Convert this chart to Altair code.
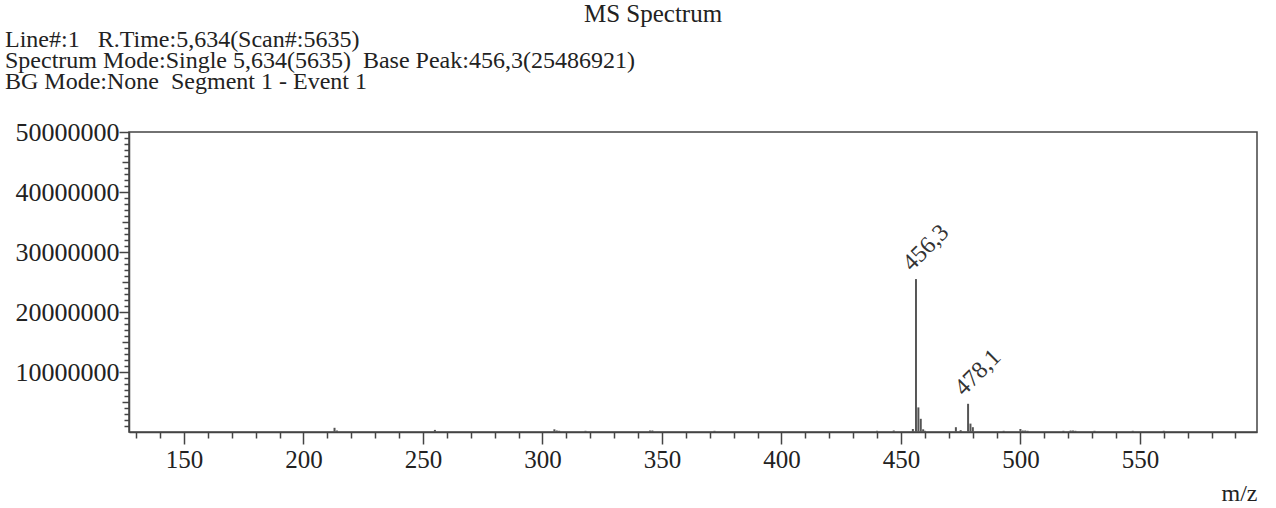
import altair as alt
import pandas as pd

# ---- data ----
mz = [213.0, 214.0, 255.0, 305.0, 306.0, 307.0, 318.0, 345.0, 346.0, 372.0,
      440.0, 447.0, 455.0, 456.3, 457.3, 458.3, 459.3, 460.0, 473.0, 475.0,
      478.1, 479.1, 480.1, 493.0, 500.0, 501.0, 502.0, 503.0, 518.0, 521.0,
      522.0, 523.0, 531.0, 547.0, 560.0]
intensity = [700000, 250000, 350000, 450000, 250000, 200000, 200000, 250000, 250000, 200000,
             200000, 250000, 500000, 25486921, 4100000, 2200000, 450000, 200000, 800000, 300000,
             4700000, 1400000, 800000, 200000, 500000, 250000, 250000, 200000, 200000, 250000,
             250000, 200000, 200000, 200000, 200000]

label_mz = [456.3, 478.1]
label_int = [25486921, 4700000]
label_text = ["456,3", "478,1"]

title_text = ["MS Spectrum"]
header_lines = [
    "Line#:1\u00a0\u00a0\u00a0R.Time:5,634(Scan#:5635)",
    "Spectrum Mode:Single 5,634(5635)\u00a0\u00a0Base Peak:456,3(25486921)",
    "BG Mode:None\u00a0\u00a0Segment 1 - Event 1",
]

x_ticks = list(range(130, 600, 10))
y_ticks = list(range(1000000, 50000001, 1000000))

FONT = "Liberation Serif"
INK = "#222222"
LINE = "#444444"

peaks = pd.DataFrame({"mz": mz, "intensity": intensity})
labels = pd.DataFrame({"mz": label_mz, "intensity": label_int, "text": label_text})
title_df = pd.DataFrame({"t": title_text})
header_df = pd.DataFrame({"t": ["\n".join(header_lines)]})

xscale = alt.Scale(domain=[127, 599], nice=False, zero=False)
yscale = alt.Scale(domain=[0, 50000000], nice=False)

xaxis = alt.Axis(
    values=x_ticks, format="d",
    labelExpr="datum.value % 50 === 0 ? datum.label : ''",
    tickSize={"condition": {"test": "datum.value % 50 === 0", "value": 12}, "value": 6},
    tickColor=LINE, tickWidth=1.5, domainColor=LINE, domainWidth=1.5,
    labelFont=FONT, labelFontSize=25, labelColor=INK, labelPadding=3,
    labelFlush=False, labelOverlap=False, labelBound=False, grid=False,
    title="m/z", titleFont=FONT, titleFontSize=24, titleFontWeight="normal",
    titleColor=INK, titleX=1128, titleY=68, titleAlign="right",
    titleBaseline="alphabetic", titleAnchor="end",
)
yaxis = alt.Axis(
    values=y_ticks, format="d",
    labelExpr="datum.value % 10000000 === 0 ? datum.label : ''",
    tickSize={"condition": [
        {"test": "datum.value % 10000000 === 0", "value": 10},
        {"test": "datum.value % 5000000 === 0", "value": 7}], "value": 5},
    tickColor=LINE, tickWidth=1.5, domainColor=LINE, domainWidth=1.5,
    labelFont=FONT, labelFontSize=26, labelColor=INK, labelPadding=0,
    labelFlush=False, labelOverlap=False, labelBound=False, grid=False, title=None,
)

rules = alt.Chart(peaks).mark_rule(color="#555555", strokeWidth=2).encode(
    x=alt.X("mz:Q", scale=xscale, axis=xaxis),
    y=alt.Y("intensity:Q", scale=yscale, axis=yaxis),
    y2=alt.datum(0),
)

peak_labels = alt.Chart(labels).mark_text(
    angle=315, align="left", baseline="alphabetic", dx=2, dy=-8,
    font=FONT, fontSize=24, color="#333333",
).encode(
    x=alt.X("mz:Q", scale=xscale, axis=xaxis),
    y=alt.Y("intensity:Q", scale=yscale, axis=yaxis),
    text="text:N",
)

title = alt.Chart(title_df).mark_text(
    align="center", baseline="alphabetic", font=FONT, fontSize=25, color=INK,
).encode(x=alt.value(524), y=alt.value(-110), text="t:N")

header = alt.Chart(header_df).mark_text(
    align="left", baseline="alphabetic", lineBreak="\n", lineHeight=21,
    font=FONT, fontSize=24, color=INK,
).encode(x=alt.value(-124), y=alt.value(-85), text="t:N")

chart = alt.layer(rules, peak_labels, title, header).properties(
    width=1128, height=300, autosize="none",
    padding={"left": 129, "top": 132, "right": 19, "bottom": 76},
    background="white",
).configure_view(stroke=LINE, strokeWidth=1.5)

chart.save("out.html", embed_options={"renderer": "svg", "actions": False})
